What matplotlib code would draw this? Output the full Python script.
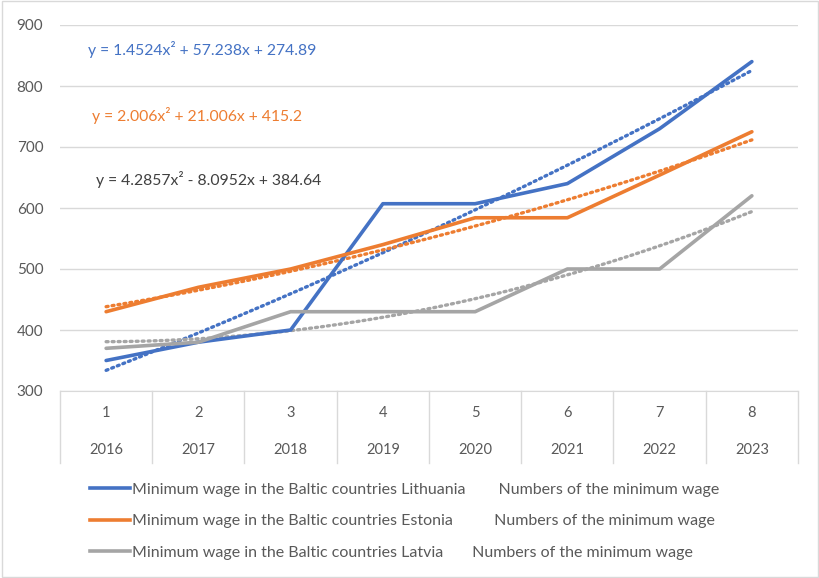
import numpy as np
import matplotlib.pyplot as plt
from matplotlib.lines import Line2D
from matplotlib.patches import Rectangle

plt.rcParams['font.family'] = ['Lato', 'DejaVu Sans']

numbers = [1, 2, 3, 4, 5, 6, 7, 8]
years = ["2016", "2017", "2018", "2019", "2020", "2021", "2022", "2023"]
lithuania = [350, 380, 400, 607, 607, 640, 730, 840]
estonia = [430, 470, 500, 540, 584, 584, 654, 725]
latvia = [370, 380, 430, 430, 430, 500, 500, 620]
equations = ["y = 1.4524x² + 57.238x + 274.89",
             "y = 2.006x² + 21.006x + 415.2",
             "y = 4.2857x² - 8.0952x + 384.64"]
eq_colors = ["#4472C4", "#ED7D31", "#404040"]
eq_pos = [(88, 50), (92, 115), (96, 180)]  # pixel positions of the equation labels
labels = ["Minimum wage in the Baltic countries Lithuania        Numbers of the minimum wage",
          "Minimum wage in the Baltic countries Estonia          Numbers of the minimum wage",
          "Minimum wage in the Baltic countries Latvia       Numbers of the minimum wage"]
colors = ["#4472C4", "#ED7D31", "#A5A5A5"]

fig = plt.figure(figsize=(8.2, 5.78), dpi=100)
fig.patches.append(Rectangle((0.002, 0.002), 0.996, 0.996, transform=fig.transFigure,
                             fill=False, edgecolor="#D9D9D9", linewidth=1))
ax = fig.add_axes([60 / 820, 1 - 391 / 578, 738 / 820, 366 / 578])

x = np.array(numbers)
for series, c in zip([lithuania, estonia, latvia], colors):
    ax.plot(x, series, color=c, linewidth=2.6, solid_capstyle="round", zorder=3)
    # polynomial trendline (order 2)
    coef = np.polyfit(x, series, 2)
    xs = np.linspace(1, 8, 200)
    ax.plot(xs, np.polyval(coef, xs), color=c, linewidth=2.4, linestyle=(0, (0.6, 1.2)),
            dash_capstyle="round", zorder=2)

ax.set_xlim(0.5, 8.5)
ax.set_ylim(300, 900)
ax.set_yticks(range(300, 901, 100))
ax.tick_params(axis="y", length=0, labelsize=11, labelcolor="#595959", pad=12)
ax.set_xticks([])
ax.grid(axis="y", color="#D9D9D9", linewidth=1)
ax.set_axisbelow(True)
for s in ["top", "right", "left"]:
    ax.spines[s].set_visible(False)
ax.spines["bottom"].set_color("#D9D9D9")

# two-level category axis
trans = ax.get_xaxis_transform()
for b in np.arange(0.5, 9.0, 1.0):
    ax.plot([b, b], [0, -0.197], transform=trans, color="#D9D9D9", linewidth=1, clip_on=False)
for n, yr in zip(numbers, years):
    ax.text(n, -0.06, str(n), transform=trans, ha="center", va="center", fontsize=10.5, color="#595959")
    ax.text(n, -0.16, yr, transform=trans, ha="center", va="center", fontsize=10.5, color="#595959")

# trendline equations
for eq, c, (px, py) in zip(equations, eq_colors, eq_pos):
    fig.text(px / 820, 1 - py / 578, eq, color=c, fontsize=11.3, va="center")

handles = [Line2D([], [], color=c, linewidth=2.6) for c in colors]
fig.legend(handles, labels, loc="upper left", bbox_to_anchor=(76 / 820, 1 - 468 / 578),
           frameon=False, fontsize=11.5, labelcolor="#595959", handlelength=2.5,
           handletextpad=0.1, labelspacing=1.1)

fig.savefig("out.png", dpi=100)
